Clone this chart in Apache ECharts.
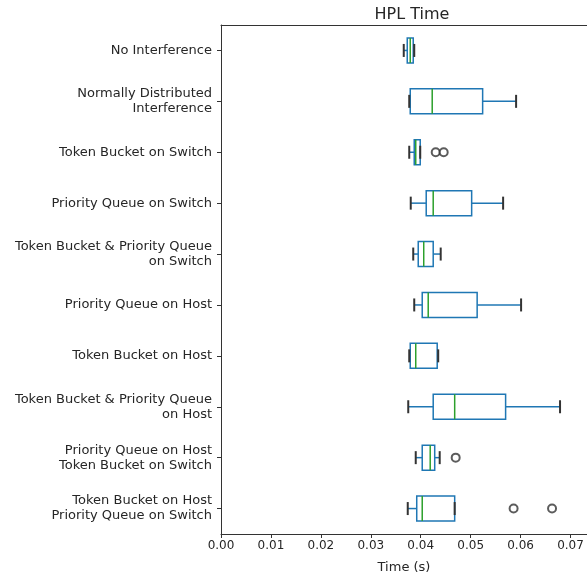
<!DOCTYPE html>
<html>
<head>
<meta charset="utf-8">
<script src="https://cdn.jsdelivr.net/npm/echarts@6/dist/echarts.min.js"></script>
<style>
  html, body { margin: 0; padding: 0; background: #fff; }
  #main { width: 587px; height: 580px; }
</style>
</head>
<body>
<div id="main"></div>
<script>
var categories = [
  'No Interference',
  'Normally Distributed\nInterference',
  'Token Bucket on Switch',
  'Priority Queue on Switch',
  'Token Bucket & Priority Queue\non Switch',
  'Priority Queue on Host',
  'Token Bucket on Host',
  'Token Bucket & Priority Queue\non Host',
  'Priority Queue on Host\nToken Bucket on Switch',
  'Token Bucket on Host\nPriority Queue on Switch'
]
// whisker low, q1, median, q3, whisker high
var whiskerLow = [0.0366, 0.0377, 0.0377, 0.0380, 0.0385, 0.0387, 0.0377, 0.0375, 0.0390, 0.0374]
var q1 = [0.0373, 0.0379, 0.0387, 0.0411, 0.0395, 0.0403, 0.0379, 0.0425, 0.0403, 0.0392]
var medians = [0.0379, 0.0423, 0.0390, 0.0425, 0.0406, 0.0415, 0.0390, 0.0468, 0.0419, 0.0403]
var q3 = [0.0385, 0.0524, 0.0399, 0.0502, 0.0425, 0.0513, 0.0433, 0.0570, 0.0428, 0.0468]
var whiskerHigh = [0.0387, 0.0591, 0.0399, 0.0565, 0.0440, 0.0601, 0.0435, 0.0679, 0.0438, 0.0468]
// outliers: [category index, value]
var outliers = [[2, 0.0430], [2, 0.0446], [8, 0.0470], [9, 0.0586], [9, 0.0663]]

var boxData = categories.map(function (c, i) {
  return [i, whiskerLow[i], q1[i], medians[i], q3[i], whiskerHigh[i]]
})
var outlierData = outliers.map(function (o) {
  return [o[1], o[0]]
})
// two-line labels sit a little lower in the original
var yLabels = categories.map(function (c) {
  if (c.indexOf('\n') < 0) return c
  return { value: c, textStyle: { padding: [5, 0, 0, 0] } }
})

var blue = '#1f77b4'
var green = '#2ca02c'
var dark = '#333333'

function renderBox(params, api) {
  var idx = api.value(0)
  var pLow = api.coord([api.value(1), idx])
  var pQ1 = api.coord([api.value(2), idx])
  var pMed = api.coord([api.value(3), idx])
  var pQ3 = api.coord([api.value(4), idx])
  var pHigh = api.coord([api.value(5), idx])
  var y = pQ1[1]
  var hb = 12.5 // half box height
  var hc = 6.5  // half cap height
  return {
    type: 'group',
    children: [
      { type: 'line', shape: { x1: pLow[0], y1: y, x2: pQ1[0], y2: y }, style: { stroke: blue, lineWidth: 1.5 } },
      { type: 'line', shape: { x1: pQ3[0], y1: y, x2: pHigh[0], y2: y }, style: { stroke: blue, lineWidth: 1.5 } },
      { type: 'rect', shape: { x: pQ1[0], y: y - hb, width: pQ3[0] - pQ1[0], height: hb * 2 }, style: { fill: 'none', stroke: blue, lineWidth: 1.5 } },
      { type: 'line', shape: { x1: pMed[0], y1: y - hb, x2: pMed[0], y2: y + hb }, style: { stroke: green, lineWidth: 1.5 } },
      { type: 'line', shape: { x1: pLow[0], y1: y - hc, x2: pLow[0], y2: y + hc }, style: { stroke: dark, lineWidth: 2 } },
      { type: 'line', shape: { x1: pHigh[0], y1: y - hc, x2: pHigh[0], y2: y + hc }, style: { stroke: dark, lineWidth: 2 } }
    ]
  }
}

var option = {
  animation: false,
  backgroundColor: '#fff',
  textStyle: { fontFamily: 'DejaVu Sans' },
  title: {
    text: 'HPL Time',
    left: 407,
    top: 2,
    textAlign: 'center',
    textStyle: { fontSize: 16, fontWeight: 'normal', color: '#262626', fontFamily: 'DejaVu Sans' }
  },
  grid: {
    left: 221,
    right: 0,
    top: 25,
    bottom: 46,
    containLabel: false
  },
  xAxis: [
    {
      type: 'value',
      min: 0,
      max: 0.0733,
      interval: 0.01,
      name: 'Time (s)',
      nameLocation: 'middle',
      nameGap: 27,
      nameTextStyle: { fontSize: 13, color: '#262626' },
      splitLine: { show: false },
      axisLine: { show: true, lineStyle: { color: '#333' } },
      axisTick: { show: true, length: 4, lineStyle: { color: '#333' } },
      axisLabel: {
        fontSize: 12,
        color: '#262626',
        margin: 6,
        showMaxLabel: false,
        formatter: function (v) { return v.toFixed(2) }
      }
    },
    {
      type: 'value',
      position: 'top',
      min: 0,
      max: 0.0733,
      axisLine: { show: true, lineStyle: { color: '#333' } },
      axisTick: { show: false },
      axisLabel: { show: false },
      splitLine: { show: false }
    }
  ],
  yAxis: {
    type: 'category',
    data: yLabels,
    inverse: true,
    axisLine: { show: true, lineStyle: { color: '#333' } },
    axisTick: { show: true, length: 4, alignWithLabel: true, lineStyle: { color: '#333' } },
    axisLabel: { fontSize: 13, color: '#262626', margin: 9, lineHeight: 15, align: 'right' },
    splitLine: { show: false }
  },
  series: [
    {
      type: 'custom',
      renderItem: renderBox,
      encode: { x: [1, 2, 3, 4, 5], y: 0 },
      data: boxData
    },
    {
      type: 'scatter',
      symbol: 'emptyCircle',
      symbolSize: 8,
      itemStyle: { color: dark, borderColor: dark, borderWidth: 1.3 },
      data: outlierData
    }
  ]
}

var myChart = echarts.init(document.getElementById('main'))
myChart.setOption(option)
</script>
</body>
</html>
